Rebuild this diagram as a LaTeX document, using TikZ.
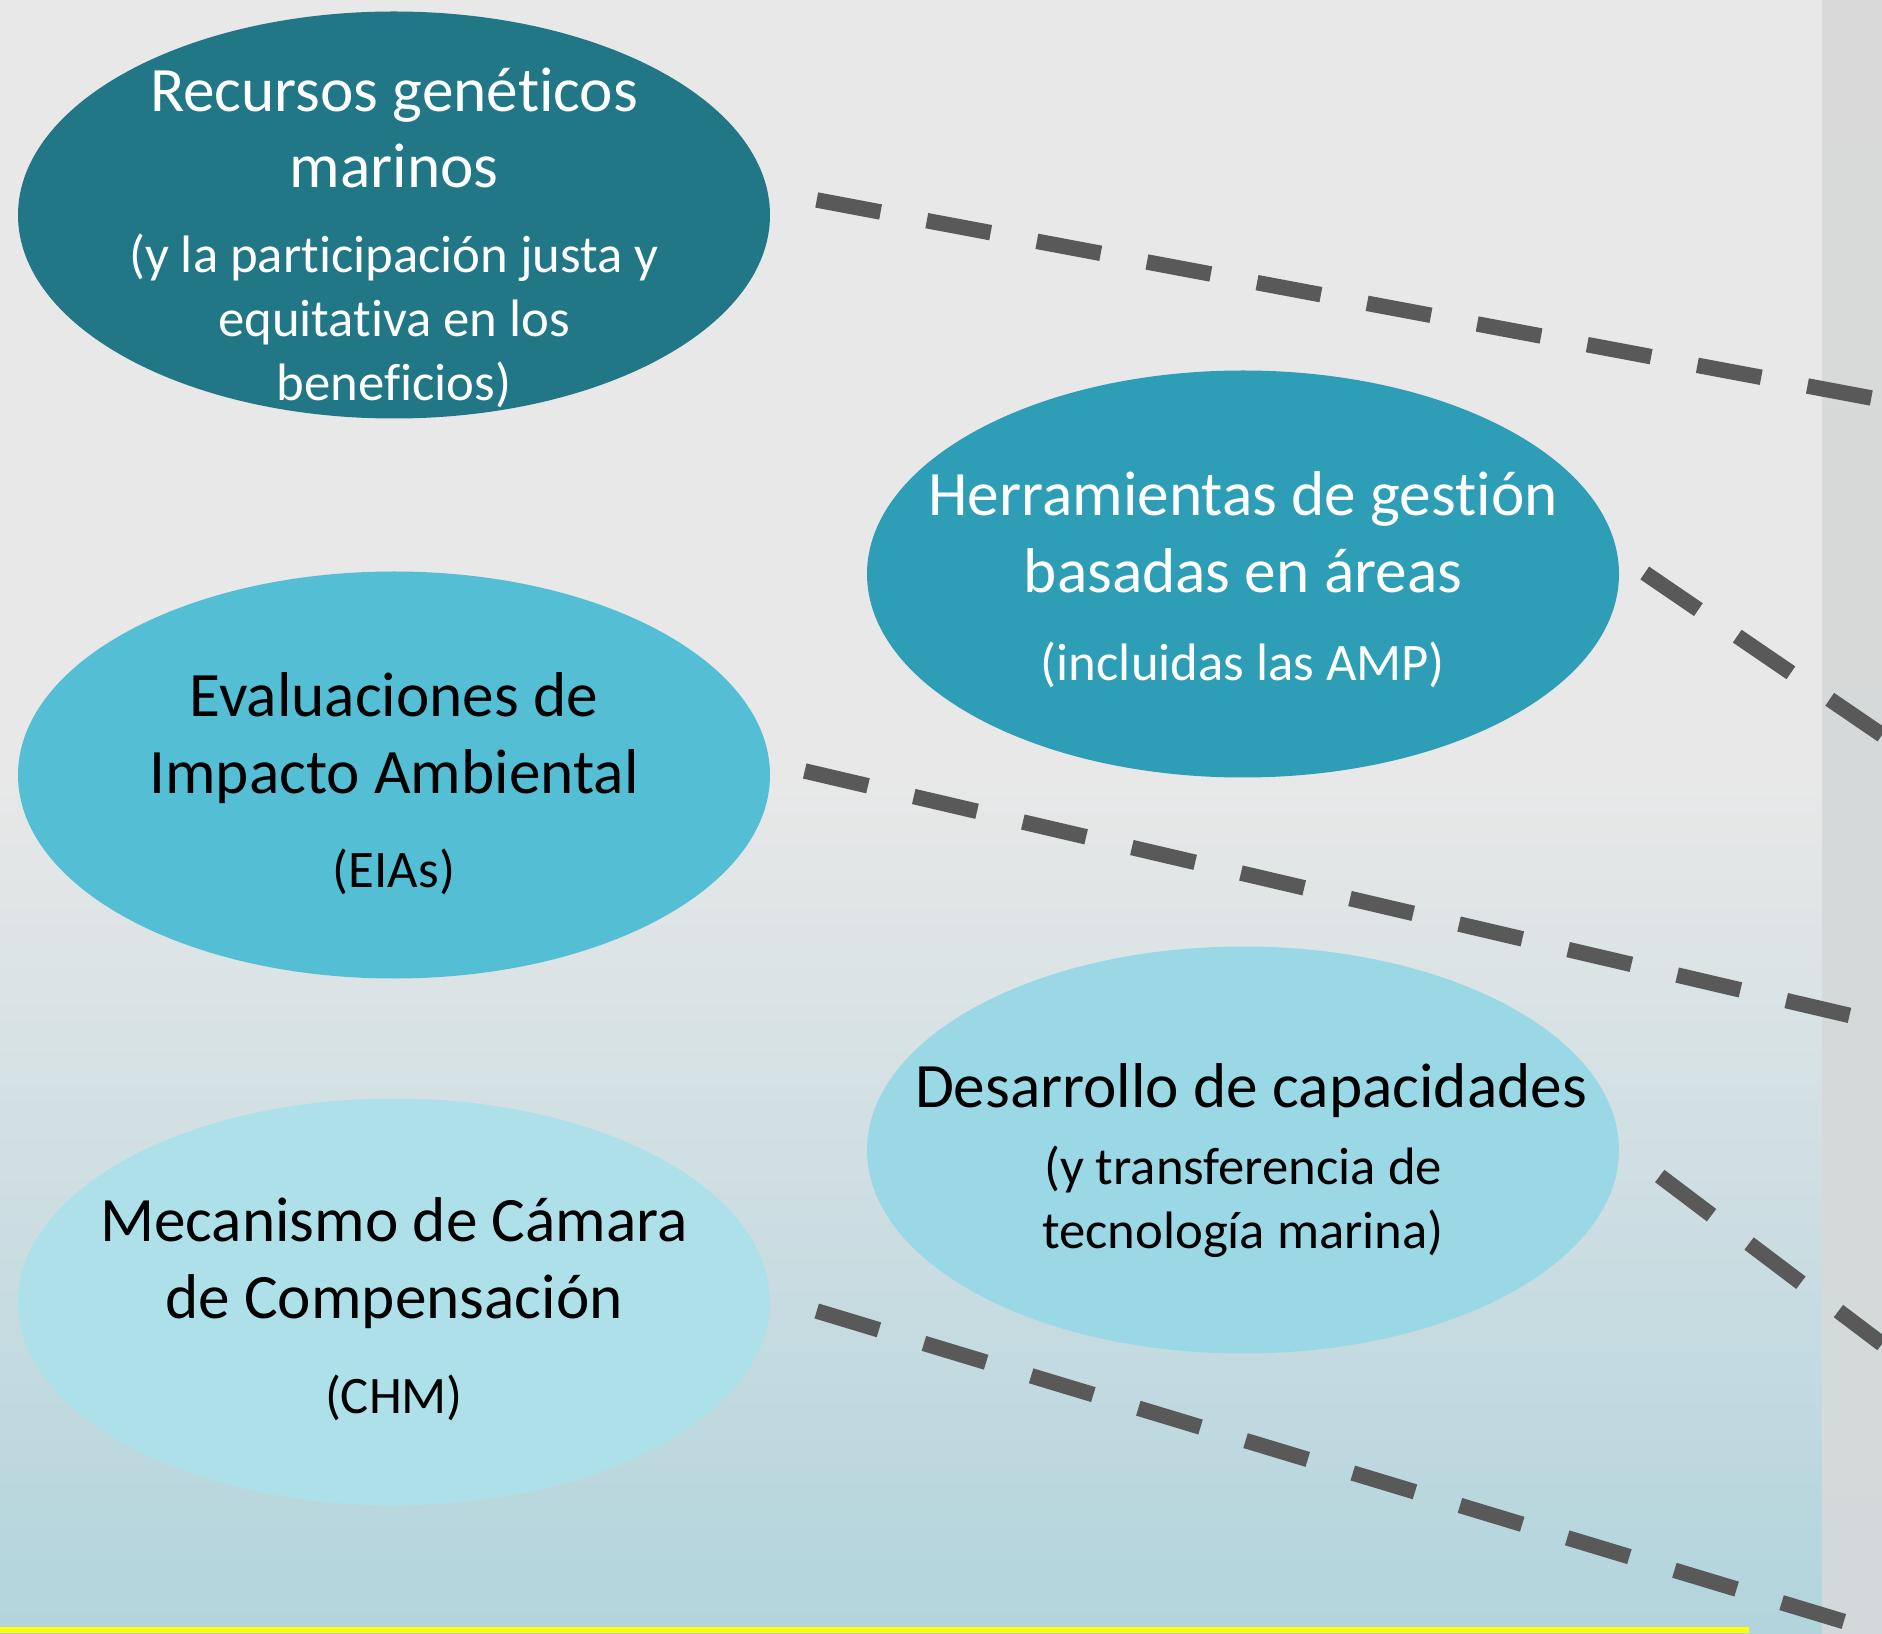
\documentclass[tikz,border=0pt]{standalone}
\usepackage{fontspec}
\setmainfont[Ligatures=NoCommon]{Carlito}
\usepackage{tikz}
\usetikzlibrary{shapes.geometric,positioning}
\newcommand{\nolig}{\kern0pt}

\definecolor{ocean1}{HTML}{217786}
\definecolor{ocean2}{HTML}{2E9DB6}
\definecolor{ocean3}{HTML}{54BED4}
\definecolor{ocean4}{HTML}{9BD8E5}
\definecolor{ocean5}{HTML}{AEE0EA}
\definecolor{dashgrey}{HTML}{595959}
\definecolor{bgtop}{HTML}{E8E8E8}
\definecolor{bgbot}{HTML}{B2D4DC}
\definecolor{stripgrey}{HTML}{D9D9D9}
\definecolor{stripbot}{HTML}{D3D9DA}
\definecolor{marker}{HTML}{FFFF00}

\begin{document}
\begin{tikzpicture}[
  blob/.style={ellipse, minimum width=7.52cm, minimum height=4.07cm, inner sep=0pt},
  bigtxt/.style={align=center, inner sep=0pt, font=\fontsize{18}{21.8}\selectfont},
  subtxt/.style={align=center, inner sep=0pt, font=\fontsize{15}{18.2}\selectfont},
  link/.style={line width=1.55mm, dashgrey, dash pattern=on 6.5mm off 4.7mm}]
  \useasboundingbox (0,0) rectangle (18.82,16.33);
  % background
  \fill[bgtop] (0,0) rectangle (18.82,16.33);
  \shade[top color=bgtop, bottom color=bgbot] (0,0) rectangle (18.82,8.6);
  \shade[top color=stripgrey, bottom color=stripbot] (18.22,0) rectangle (18.82,16.33);
  \fill[marker] (0,0) rectangle (17.49,0.06);

  % ellipses
  \node[blob, fill=ocean1] (rec) at (3.94,14.18) {};
  \node[blob, fill=ocean2] (her) at (12.43,10.59) {};
  \node[blob, fill=ocean3] (eva) at (3.94,8.58) {};
  \node[blob, fill=ocean4] (des) at (12.43,4.83) {};
  \node[blob, fill=ocean5] (mec) at (3.94,3.31) {};

  \node[bigtxt, white] (rect) at ([yshift=0.87cm]rec.center) {Recursos genéticos\\marinos};
  \node[subtxt, white] (recs) at ([yshift=-1.06cm]rec.center)
    {(y la partic\nolig ipación justa y\\equitat\nolig iva en los\\benef\nolig icios)};
  \node[bigtxt, white] (hert) at ([yshift=0.42cm]her.center) {Herramientas de gest\nolig ión\\basadas en áreas};
  \node[subtxt, white] (hers) at ([yshift=-0.91cm]her.center) {(incluidas las AMP)};
  \node[bigtxt] (evat) at ([yshift=0.37cm]eva.center) {Evaluaciones de\\Impacto Ambiental};
  \node[subtxt] (evas) at ([yshift=-0.97cm]eva.center) {(EIAs)};
  \node[bigtxt] (dest) at ([xshift=0.08cm,yshift=0.59cm]des.center) {Desarrollo de capacidades};
  \node[subtxt] (dess) at ([yshift=-0.52cm]des.center) {(y transferencia de\\tecnología marina)};
  \node[bigtxt] (mect) at ([yshift=0.39cm]mec.center) {Mecanismo de Cámara\\de Compensación};
  \node[subtxt] (mecs) at ([yshift=-0.96cm]mec.center) {(CHM)};

  % connectors running off the right edge
  \coordinate (recend) at (18.82,12.33);
  \coordinate (herend) at (18.82,8.98);
  \coordinate (evaend) at (18.82,6.10);
  \coordinate (desend) at (18.82,2.89);
  \coordinate (mecend) at (18.82,0);
  \draw[link] ([shift={(0.46,0.15)}]rec.east) -- (recend);
  \draw[link] ([shift={(0.25,0.01)}]her.east) -- (herend);
  \draw[link] ([shift={(0.34,0.04)}]eva.east) -- (evaend);
  \draw[link] ([shift={(0.40,-0.26)}]des.east) -- (desend);
  \draw[link] ([shift={(0.46,-0.09)}]mec.east) -- (mecend);
\end{tikzpicture}
\end{document}
